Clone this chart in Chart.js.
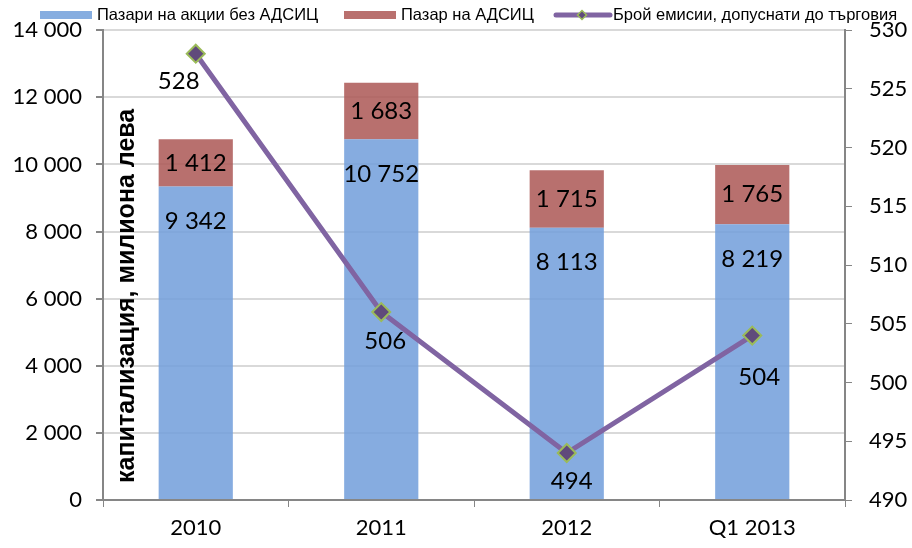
<!DOCTYPE html>
<html>
<head>
<meta charset="utf-8">
<script src="https://cdn.jsdelivr.net/npm/chart.js@4"></script>
<style>
  html, body { margin: 0; padding: 0; background: #fff; }
  #wrap { width: 912px; height: 548px; }
</style>
</head>
<body>
<div id="wrap"><canvas id="myChart" width="912" height="548"></canvas></div>
<script>
const categories = ["2010", "2011", "2012", "Q1 2013"];
const sharesNoReit = [9342, 10752, 8113, 8219];
const reitMarket = [1412, 1683, 1715, 1765];
const issuesCount = [528, 506, 494, 504];
const seriesNames = [
  "Пазари на акции без АДСИЦ",
  "Пазар на АДСИЦ",
  "Брой емисии, допуснати до търговия",
];
const axisTitle = "капитализация, милиона лева";

const blue = "rgba(113, 158, 219, 0.85)";
const red = "rgba(172, 87, 85, 0.85)";
const purple = "rgb(128, 100, 162)";
const fontFam = "Lato, 'Open Sans', sans-serif";

const fmt = (v) => String(v).replace(/\B(?=(\d{3})+(?!\d))/g, " ");

const valueLabels = {
  id: "valueLabels",
  afterDatasetsDraw(chart) {
    const ctx = chart.ctx;
    ctx.save();
    ctx.fillStyle = "#000";
    ctx.font = "24px " + fontFam;
    ctx.textAlign = "center";
    ctx.textBaseline = "middle";
    chart.getDatasetMeta(0).data.forEach((bar, i) => {
      ctx.fillText(fmt(sharesNoReit[i]), bar.x, bar.y + 35);
    });
    chart.getDatasetMeta(1).data.forEach((bar, i) => {
      ctx.fillText(fmt(reitMarket[i]), bar.x, (bar.y + bar.base) / 2);
    });
    const shift = [[-17, 28], [4, 29], [5, 28], [7, 42]];
    chart.getDatasetMeta(2).data.forEach((pt, i) => {
      ctx.fillText(String(issuesCount[i]), pt.x + shift[i][0], pt.y + shift[i][1]);
    });
    // axis title sits inside the plot area
    const ca = chart.chartArea;
    ctx.translate(ca.left + 31, ca.bottom - 17);
    ctx.rotate(-Math.PI / 2);
    ctx.textAlign = "left";
    ctx.textBaseline = "alphabetic";
    ctx.font = "bold 25px 'Liberation Sans', Arial, sans-serif";
    ctx.fillText(axisTitle, 0, 0);
    ctx.restore();
  },
};

// legend drawn by hand so it sits tight above the plot
const topLegend = {
  id: "topLegend",
  afterDraw(chart) {
    const ctx = chart.ctx;
    ctx.save();
    ctx.font = "16.5px 'Liberation Sans', Arial, sans-serif";
    ctx.textBaseline = "middle";
    ctx.fillStyle = "rgb(134,173,224)";
    ctx.fillRect(40, 11, 52, 8);
    ctx.fillStyle = "rgb(185,112,110)";
    ctx.fillRect(344, 11, 52, 8);
    ctx.strokeStyle = purple;
    ctx.lineWidth = 5;
    ctx.lineCap = "round";
    ctx.beginPath();
    ctx.moveTo(556, 15);
    ctx.lineTo(610, 15);
    ctx.stroke();
    ctx.beginPath();
    ctx.moveTo(582, 10.5);
    ctx.lineTo(586.5, 15);
    ctx.lineTo(582, 19.5);
    ctx.lineTo(577.5, 15);
    ctx.closePath();
    ctx.fillStyle = "rgb(96, 74, 123)";
    ctx.fill();
    ctx.strokeStyle = "#9bbb59";
    ctx.lineWidth = 1.5;
    ctx.stroke();
    ctx.fillStyle = "#000";
    ctx.fillText(seriesNames[0], 97, 15);
    ctx.fillText(seriesNames[1], 401, 15);
    ctx.fillText(seriesNames[2], 613, 15);
    ctx.restore();
  },
};

const ctx = document.getElementById("myChart").getContext("2d");
const myChart = new Chart(ctx, {
  type: "bar",
  data: {
    labels: categories,
    datasets: [
      {
        label: seriesNames[0],
        data: sharesNoReit,
        backgroundColor: blue,
        yAxisID: "y",
        stack: "cap",
        barPercentage: 0.4,
        categoryPercentage: 1,
      },
      {
        label: seriesNames[1],
        data: reitMarket,
        backgroundColor: red,
        yAxisID: "y",
        stack: "cap",
        barPercentage: 0.4,
        categoryPercentage: 1,
      },
      {
        type: "line",
        label: seriesNames[2],
        data: issuesCount,
        yAxisID: "y1",
        borderColor: purple,
        borderWidth: 5,
        pointStyle: "rectRot",
        pointRadius: 9,
        pointBackgroundColor: "rgb(96, 74, 123)",
        pointBorderColor: "#9bbb59",
        pointBorderWidth: 2,
        order: -1,
      },
    ],
  },
  options: {
    responsive: false,
    animation: false,
    layout: { padding: { top: 28, left: 0, right: 0, bottom: 0 } },
    plugins: {
      tooltip: { enabled: false },
      legend: { display: false },
    },
    scales: {
      x: {
        grid: {
          display: true,
          drawOnChartArea: false,
          tickLength: 7,
          tickColor: "#868686",
          offset: true,
        },
        border: { color: "#868686", width: 2 },
        ticks: { color: "#000", font: { family: fontFam, size: 22 }, padding: 8 },
        afterFit(scale) {
          scale.height = 48;
        },
      },
      y: {
        position: "left",
        min: 0,
        max: 14000,
        stacked: true,
        grid: { color: "#d9d9d9", lineWidth: 2, tickLength: 7, tickColor: "#868686" },
        border: { color: "#868686", width: 2 },
        ticks: {
          stepSize: 2000,
          color: "#000",
          font: { family: fontFam, size: 22 },
          padding: 14,
          callback: (v) => fmt(v),
        },
        afterFit(scale) {
          scale.width = 103;
        },
      },
      y1: {
        position: "right",
        min: 490,
        max: 530,
        grid: { drawOnChartArea: false, tickLength: 7, tickColor: "#868686" },
        border: { color: "#868686", width: 2 },
        ticks: { stepSize: 5, color: "#000", font: { family: fontFam, size: 22 }, padding: 17 },
        afterFit(scale) {
          scale.width = 67;
        },
      },
    },
  },
  plugins: [valueLabels, topLegend],
});
</script>
</body>
</html>
